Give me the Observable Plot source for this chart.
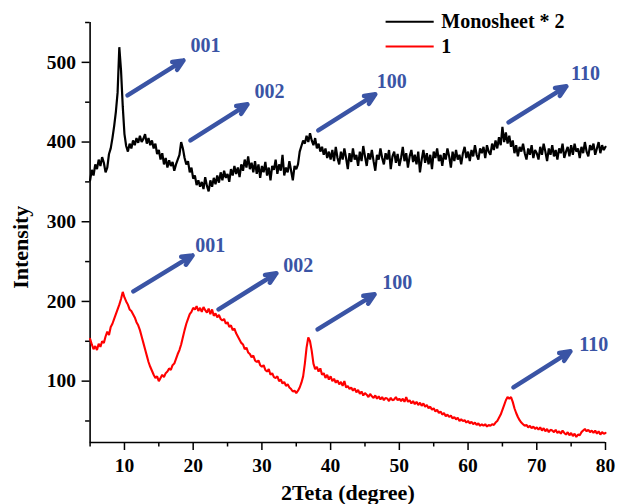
<!DOCTYPE html>
<html>
<head>
<meta charset="utf-8">
<script src="https://cdn.jsdelivr.net/npm/d3@7"></script>
<script src="https://cdn.jsdelivr.net/npm/@observablehq/plot@0.6"></script>
<style>
  html, body { margin: 0; padding: 0; background: #fff; }
  #chart svg { display: block; }
</style>
</head>
<body>
<div id="chart"></div>
<script>
// Scan grid: 2θ from 5° to 80°, step 0.25°
const angleStart = 5;
const angleStep = 0.25;

// Series "Monosheet * 2" (black), one row per degree (x, x+.25, x+.5, x+.75)
const monosheet = [
  352, 365, 358, 372,  366, 378, 370, 381,  374, 362, 368, 385,  392, 405, 420, 438,  // 5-8
  462, 519, 490, 445,  410, 395, 388, 398,  392, 402, 396, 405,  399, 408, 400, 404,  // 9-12
  410, 398, 405, 396,  402, 392, 398, 385,  390, 378, 386, 372,  380, 368, 377, 370,  // 13-16
  375, 364, 372, 378,  384, 400, 392, 380,  372, 376, 362, 368,  354, 358, 346, 352,  // 17-20
  344, 350, 341, 356,  345, 338, 352, 344,  355, 347, 358, 349,  362, 352, 364, 355,  // 21-24
  360, 350, 366, 358,  370, 360, 368, 356,  372, 364, 378, 368,  382, 366, 374, 362,  // 25-28
  376, 360, 372, 355,  370, 362, 375, 358,  368, 352, 370, 365,  378, 360, 372, 364,  // 29-32
  384, 358, 368, 362,  376, 364, 352, 370,  366, 372, 388, 395,  402, 398, 408, 400,  // 33-36
  411, 402, 396, 405,  392, 398, 388, 394,  384, 392, 380, 388,  378, 390, 376, 394,  // 37-40
  380, 372, 388, 378,  392, 380, 366, 386,  375, 392, 378, 384,  370, 388, 376, 395,  // 41-44
  382, 370, 386, 378,  390, 376, 364, 384,  378, 392, 380, 372,  386, 378, 390, 366,  // 45-48
  382, 388, 374, 385,  370, 380, 394, 376,  386, 368, 382, 390,  375, 384, 372, 388,  // 49-52
  362, 378, 390, 374,  386, 372, 384, 366,  388, 380, 392, 376,  384, 370, 386, 378,  // 53-56
  392, 382, 368, 388,  376, 390, 378, 384,  372, 386, 394, 380,  388, 376, 390, 382,  // 57-60
  396, 384, 378, 392,  386, 394, 380, 396,  388, 384, 398, 390,  402, 392, 406, 396,  // 61-64
  419, 400, 412, 398,  408, 394, 402, 386,  396, 382, 394, 388,  398, 386, 378, 392,  // 65-68
  384, 396, 380, 390,  386, 378, 394, 384,  398, 388, 376, 392,  384, 396, 382, 390,  // 69-72
  378, 392, 386, 398,  380, 388, 394, 382,  396, 384, 398, 388,  392, 380, 394, 386,  // 73-76
  400, 388, 382, 396,  390, 398, 384, 392,  400, 386, 396, 390,  394                   // 77-80
];

// Series "1" (red)
const sample1 = [
  153, 146, 140, 144,  139, 147, 143, 150,  148, 156, 162, 158,  168, 172, 178, 184,  // 5-8
  190, 196, 203, 212,  205, 200, 196, 190,  188, 184, 180, 174,  170, 164, 156, 148,  // 9-12
  140, 132, 124, 118,  113, 108, 104, 106,  100, 104, 108, 105,  110, 112, 116, 114,  // 13-16
  120, 122, 128, 134,  139, 146, 155, 164,  172, 178, 184, 187,  192, 190, 194, 188,  // 17-20
  192, 187, 193, 189,  186, 191, 184, 190,  182, 185, 180, 183,  178, 176, 178, 172,  // 21-24
  174, 168, 170, 164,  166, 160, 156, 152,  148, 146, 140, 142,  136, 134, 130, 132,  // 25-28
  126, 124, 126, 120,  118, 120, 114, 112,  115, 108, 110, 105,  104, 106, 100, 102,  // 29-32
  97, 99, 94, 96,      92, 90, 87, 88,      85, 88, 92, 98,      106, 122, 142, 155,  // 33-36
  150, 138, 122, 115,  118, 112, 116, 108,  110, 104, 108, 102,  106, 100, 103, 98,   // 37-40
  101, 96, 99, 94,     100, 92, 94, 90,     92, 88, 91, 86,      89, 84, 87, 82,      // 41-44
  85, 83, 80, 84,      81, 79, 82, 78,      81, 77, 80, 76,      79, 78, 75, 79,      // 45-48
  76, 77, 80, 76,      78, 75, 78, 74,      80, 74, 76, 72,      75, 71, 74, 70,      // 49-52
  73, 69, 72, 68,      70, 66, 68, 64,      66, 62, 64, 60,      62, 58, 60, 56,      // 53-56
  58, 55, 57, 53,      55, 52, 54, 50,      52, 50, 51, 48,      50, 47, 49, 46,      // 57-60
  48, 45, 47, 44,      46, 44, 46, 43,      45, 44, 46, 45,      48, 50, 54, 58,      // 61-64
  64, 70, 76, 80,      78, 80, 74, 66,      60, 55, 51, 48,      46, 44, 45, 42,      // 65-68
  44, 41, 43, 40,      42, 39, 42, 38,      41, 37, 40, 36,      39, 38, 36, 39,      // 69-72
  35, 37, 34, 38,      35, 33, 36, 32,      35, 31, 34, 30,      33, 32, 36, 38,      // 73-76
  40, 37, 39, 36,      38, 35, 38, 34,      37, 33, 36, 34,      35                   // 77-80
];

const seriesNames = ["Monosheet * 2", "1"];
const seriesColors = ["#000000", "#ff0000"];

// Peak annotations (Miller indices) and arrows, in data units
const peakLabels = ["001", "002", "100", "110", "001", "002", "100", "110"];
const arrowX1 = [10.44, 19.6, 38.2, 65.9, 11.3, 23.7, 38.1, 66.6];
const arrowY1 = [458.6, 402, 414.7, 424.7, 212.7, 190.1, 165, 92.2];
const arrowX2 = [18.59, 27.9, 46.5, 74.3, 19.9, 32.1, 46.4, 74.9];
const arrowY2 = [502.5, 447.3, 459.9, 469.9, 257.8, 235.3, 208.9, 137.4];
const labelX = [21.8, 31.1, 48.9, 77.1, 22.5, 35.3, 49.7, 78.3];
const labelY = [520.5, 463.6, 476, 486.2, 270.4, 245.3, 224, 146.2];

// Axis ticks
const xMajorTicks = [10, 20, 30, 40, 50, 60, 70, 80];
const xMinorTicks = [5, 15, 25, 35, 45, 55, 65, 75];
const yMajorTicks = [100, 200, 300, 400, 500];
const yMinorTicks = [50, 150, 250, 350, 450, 550];

const xTitle = "2Teta (degree)";
const yTitle = "Intensity";

// ---- build tables ----
const toRows = (vals, name) => vals.map((v, i) => ({angle: angleStart + i * angleStep, value: v, series: name}));
const blackRows = toRows(monosheet, seriesNames[0]);
const redRows = toRows(sample1, seriesNames[1]);
const annotations = peakLabels.map((t, i) => ({
  text: t, x1: arrowX1[i], y1: arrowY1[i], x2: arrowX2[i], y2: arrowY2[i], lx: labelX[i], ly: labelY[i]
}));
const legendRows = seriesNames.map((n, i) => ({name: n, color: seriesColors[i], row: i}));

const BLUE = "#3a54a5";
const FONT = "'Liberation Serif', 'Times New Roman', Times, serif";

const chart = Plot.plot({
  width: 617,
  height: 504,
  marginLeft: 89.6,
  marginRight: 12,
  marginTop: 22,
  marginBottom: 62,
  x: {domain: [5, 80]},
  y: {domain: [23, 550]},
  style: {fontFamily: FONT, fontWeight: "bold", fontSize: "19.5px", background: "#fff", color: "#000"},
  marks: [
    Plot.axisX({ticks: xMajorTicks, tickSize: 8, tickPadding: 8, tickFormat: d => String(d), label: null, strokeWidth: 1.5}),
    Plot.axisX({ticks: xMinorTicks, tickSize: 4.5, tickFormat: () => "", label: null, strokeWidth: 1.5}),
    Plot.axisY({ticks: yMajorTicks, tickSize: 8, tickPadding: 6, tickFormat: d => String(d), label: null, strokeWidth: 1.5}),
    Plot.axisY({ticks: yMinorTicks, tickSize: 4.5, tickFormat: () => "", label: null, strokeWidth: 1.5}),
    Plot.ruleX([5], {strokeWidth: 1.6}),
    Plot.ruleY([23], {strokeWidth: 1.6}),
    Plot.line(blackRows, {x: "angle", y: "value", stroke: seriesColors[0], strokeWidth: 2.2, strokeLinejoin: "miter"}),
    Plot.line(redRows, {x: "angle", y: "value", stroke: seriesColors[1], strokeWidth: 2.1, strokeLinejoin: "miter"}),
    Plot.arrow(annotations, {x1: "x1", y1: "y1", x2: "x2", y2: "y2", stroke: BLUE, strokeWidth: 4.5, headLength: 3.8, headAngle: 48}),
    Plot.text(annotations, {x: "lx", y: "ly", text: "text", fill: BLUE, fontSize: 20, fontWeight: "bold", lineAnchor: "middle"}),
    // legend
    Plot.link(legendRows, {x1: 48, x2: 55, y1: d => 551 - d.row * 31, y2: d => 551 - d.row * 31, stroke: "color", strokeWidth: 2}),
    Plot.text(legendRows, {x: 56.1, y: d => 551 - d.row * 31, text: "name", textAnchor: "start", fill: "#000", fontSize: 20, lineAnchor: "middle"}),
    // axis titles
    Plot.text([yTitle], {x: -5.1, y: 268, text: d => d, rotate: -90, fontSize: 22, fill: "#000", lineAnchor: "middle"}),
    Plot.text([xTitle], {x: 42.5, y: -40, text: d => d, fontSize: 22, fill: "#000", lineAnchor: "middle"})
  ]
});
document.getElementById("chart").appendChild(chart);
</script>
</body>
</html>
